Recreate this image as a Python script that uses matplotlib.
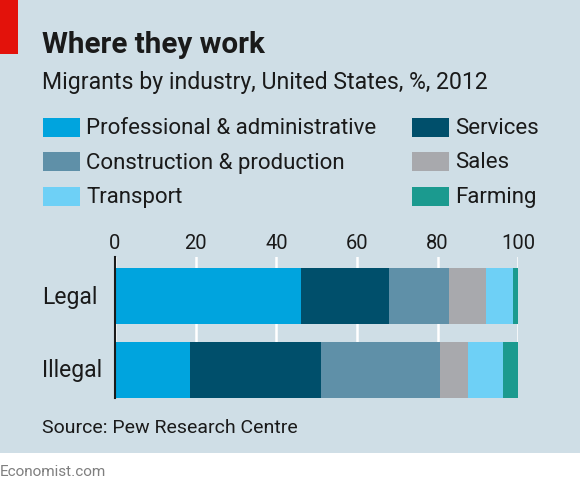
import matplotlib
matplotlib.use("Agg")
import matplotlib.pyplot as plt
from matplotlib.patches import Rectangle
import numpy as np

plt.rcParams['font.family'] = ['Roboto', 'DejaVu Sans']

# data (% of migrants by industry, 2012)
groups = ["Legal", "Illegal"]
industries = ["Professional & administrative", "Services", "Construction & production",
              "Sales", "Transport", "Farming"]
legal = [46.1, 21.8, 14.8, 9.3, 6.6, 1.4]
illegal = [18.6, 32.6, 29.5, 6.8, 8.6, 3.9]
ticks = [0, 20, 40, 60, 80, 100]

colors = ["#00a4de", "#004f6b", "#5f90a8", "#a8a9ad", "#6ed0f6", "#1b9a8f"]
bg = "#cfdee6"
ink = "#1a1a1a"

W, H = 580, 490
fig = plt.figure(figsize=(W / 100, H / 100), dpi=100)
fig.patch.set_facecolor("white")

def fx(px):
    return px / W

def fy(py):
    return 1 - py / H

# panel + red flag
fig.add_artist(Rectangle((0, fy(453)), 1, 1 - fy(453), transform=fig.transFigure,
                         facecolor=bg, edgecolor="none", zorder=0))
fig.add_artist(Rectangle((0, fy(54)), fx(18), 1 - fy(54), transform=fig.transFigure,
                         facecolor="#e3120b", edgecolor="none", zorder=1))

fig.text(fx(42), fy(45), "Where they work", fontsize=21.3, fontweight="bold",
         color=ink, va="center", ha="left")
fig.text(fx(42), fy(83), "Migrants by industry, United States, %, 2012", fontsize=16.6,
         color=ink, va="center", ha="left")

# legend, two columns
order = [0, 2, 4, 1, 3, 5]
rows_y = [127.5, 162, 196.5]
for k, idx in enumerate(order):
    col = k // 3
    row = k % 3
    x0 = 43 if col == 0 else 412
    yc = rows_y[row]
    fig.add_artist(Rectangle((fx(x0), fy(yc + 9.5)), fx(37), 19 / H,
                             transform=fig.transFigure, facecolor=colors[idx],
                             edgecolor="none"))
    fig.text(fx(x0 + 43), fy(yc + 1), industries[idx], fontsize=16, color=ink,
             va="center", ha="left")

# bars
ax = fig.add_axes([fx(115), fy(398), fx(518.3) - fx(115), fy(257) - fy(398)])
ax.set_facecolor(bg)
data = np.array([legal, illegal])
ypos = np.arange(len(groups))
left = np.zeros(len(groups))
for j in range(len(industries)):
    ax.barh(ypos, data[:, j], left=left, height=0.75, color=colors[j],
            edgecolor="none", zorder=3)
    left += data[:, j]

ax.set_xlim(0, 100)
ax.set_ylim(1.375, -0.523)
ax.set_xticks(ticks)
ax.xaxis.tick_top()
ax.tick_params(axis="x", length=0, pad=3, labelsize=14.5, labelcolor=ink)
ax.set_yticks([])
ax.grid(axis="x", color="white", linewidth=1.8, zorder=1)
for s in ["top", "right", "bottom"]:
    ax.spines[s].set_visible(False)
ax.spines["left"].set_color(ink)
ax.spines["left"].set_linewidth(1.5)
ax.spines["left"].set_zorder(4)

for g, yc in zip(groups, [297, 371]):
    fig.text(fx(42), fy(yc), g, fontsize=16.5, color=ink, va="center", ha="left")

fig.text(fx(42), fy(428), "Source: Pew Research Centre", fontsize=14, color=ink,
         va="center", ha="left")
fig.text(fx(0), fy(472), "Economist.com", fontsize=11, color="#7f7f7f",
         va="center", ha="left")

fig.savefig("out.png", dpi=100, facecolor=fig.get_facecolor())
